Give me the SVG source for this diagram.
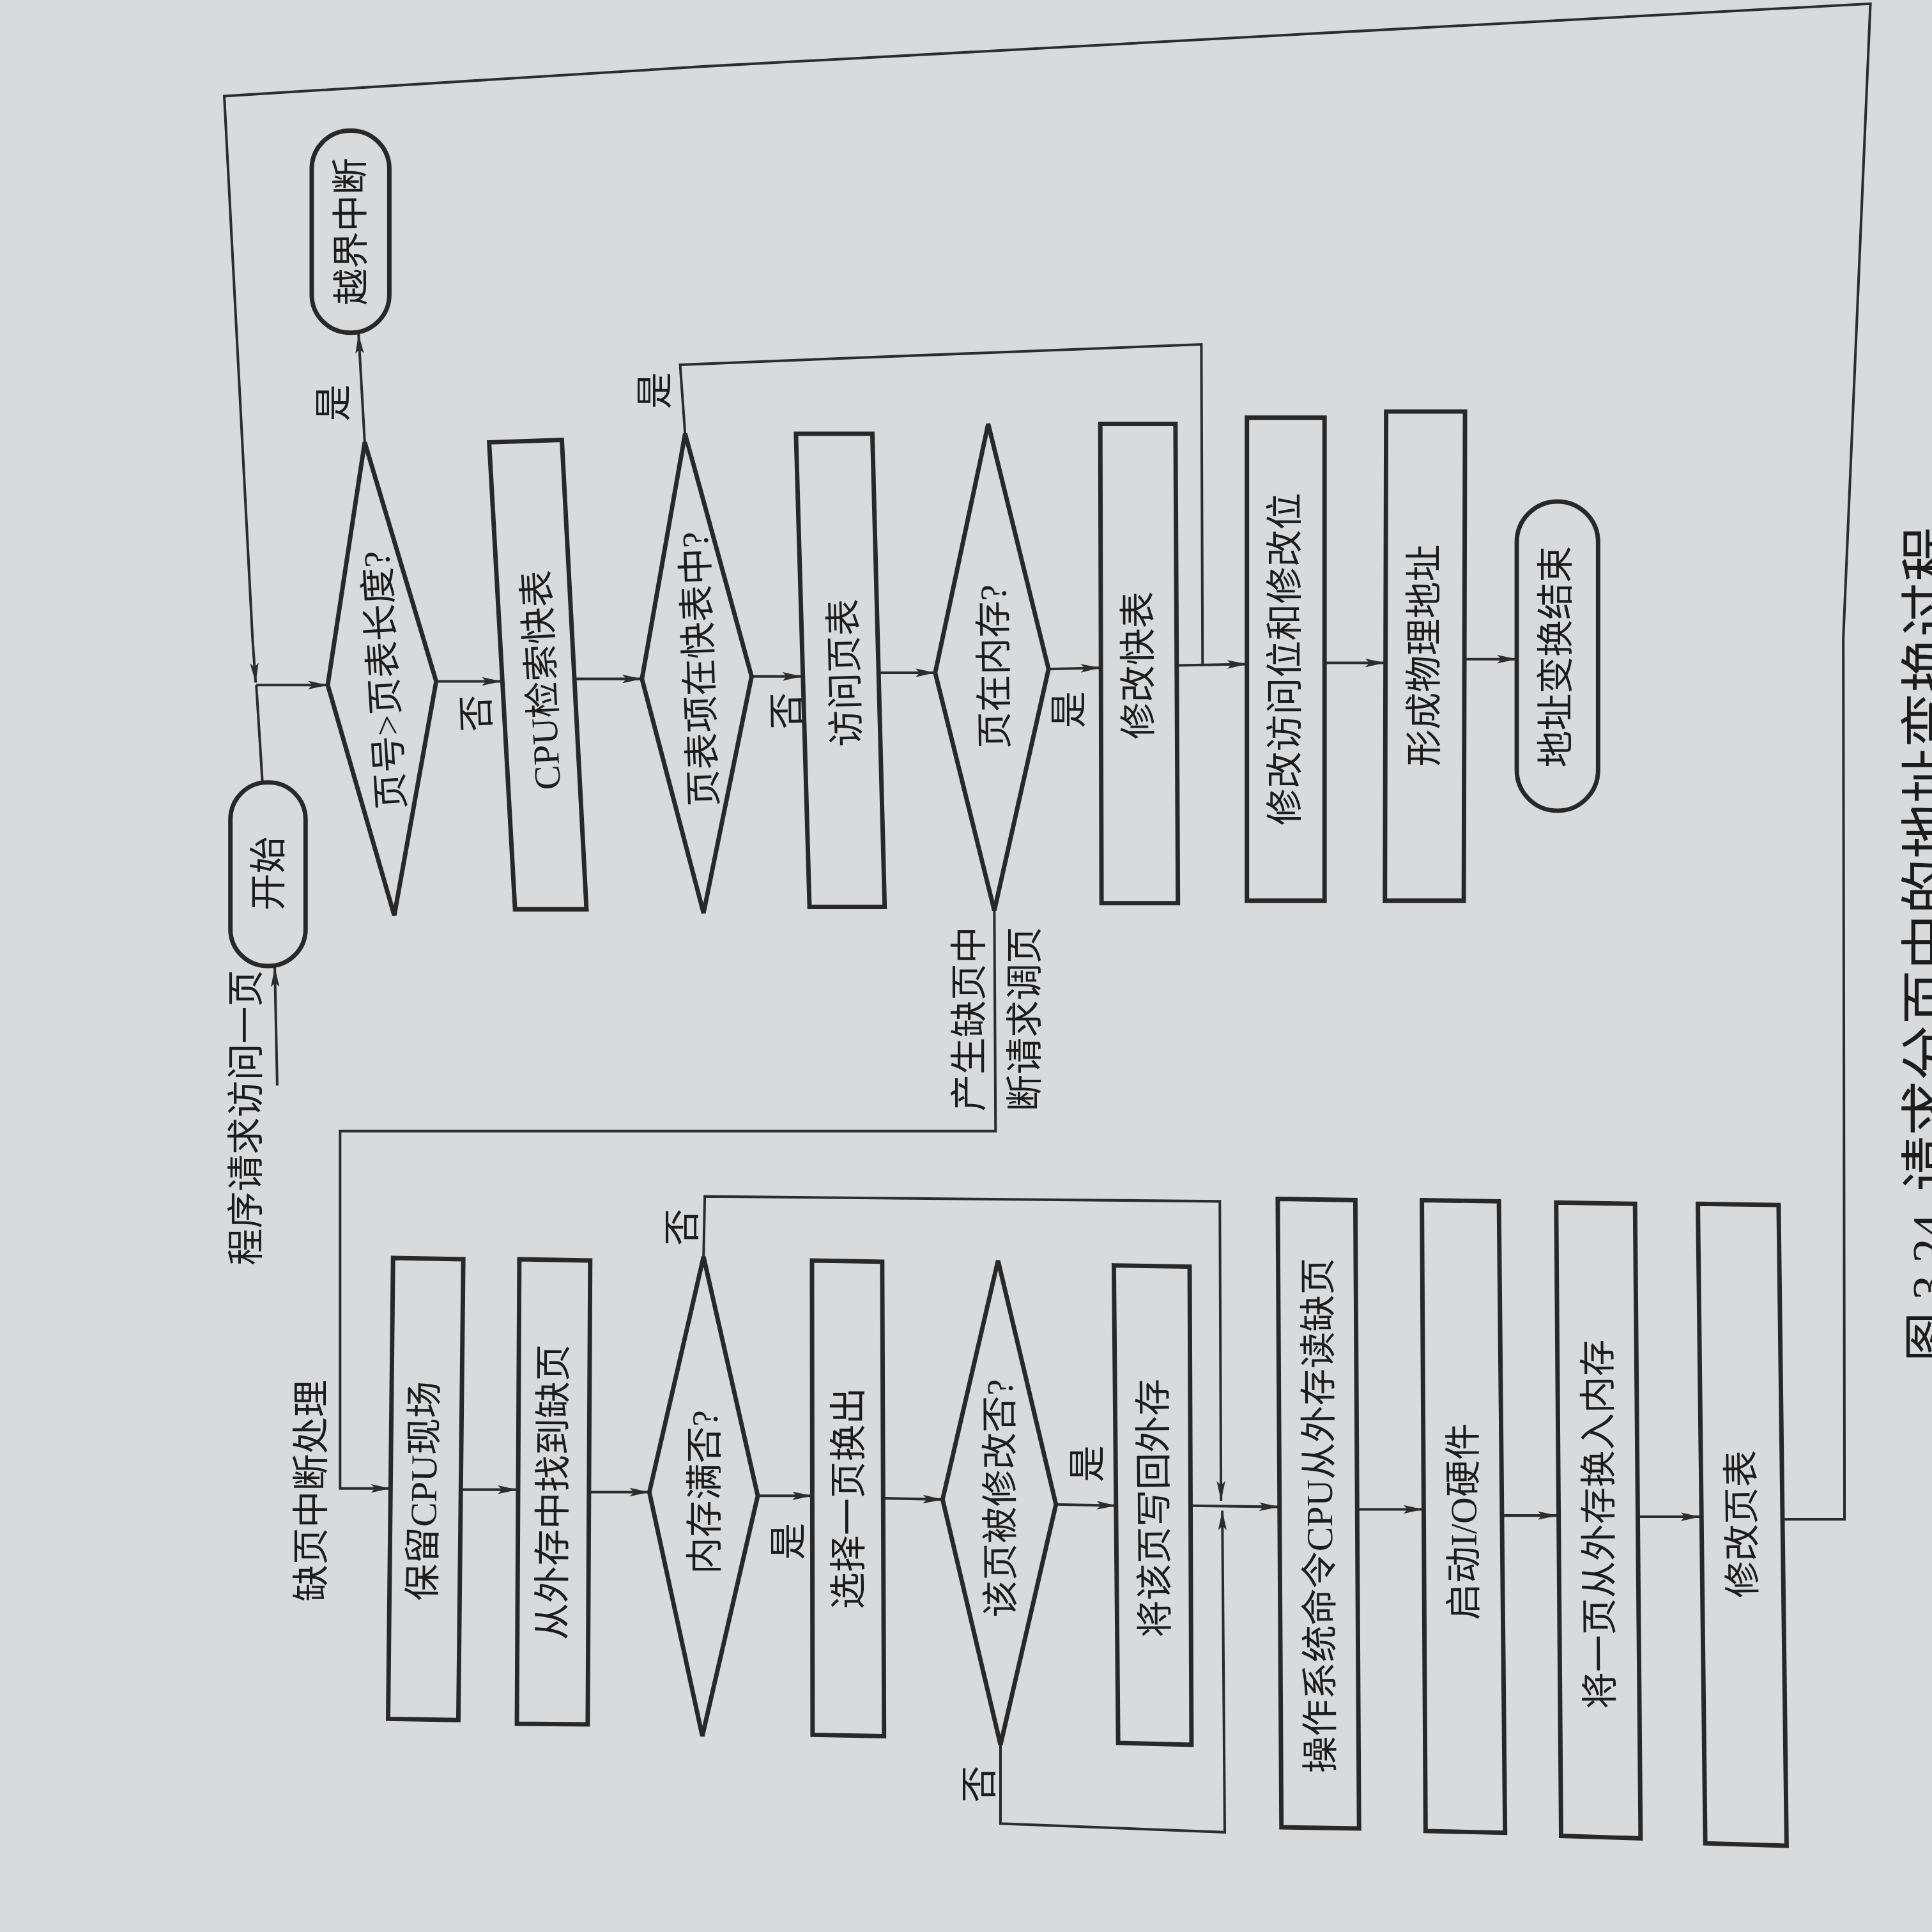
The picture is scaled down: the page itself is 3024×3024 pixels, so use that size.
<svg xmlns="http://www.w3.org/2000/svg" width="3024" height="3024" viewBox="0 0 3024 3024">
<defs>
<style>
.bg{fill:#d9dadc}
.shape{fill:none;stroke:#282828;stroke-width:3.6;stroke-linejoin:miter}
.conn{fill:none;stroke:#2c2c2c;stroke-width:2.1}
.arr{marker-end:url(#ah)}
.t{font-family:'Liberation Serif','Noto Sans CJK SC',serif;font-size:30px;fill:#1c1c1c;text-anchor:middle;dominant-baseline:central}
.cap{font-size:45px}
.cap2{font-size:40px}
</style>
<marker id="ah" viewBox="0 0 16 7" refX="16" refY="3.5" markerWidth="16" markerHeight="7" orient="auto" markerUnits="userSpaceOnUse"><path d="M0,0 L16,3.5 L0,7 L3.5,3.5 z" fill="#2c2c2c"/></marker>
</defs>
<rect class="bg" x="0" y="0" width="3024" height="3024"/>
<g transform="scale(1.928571)">
<g id="connectors">
<polyline class="conn arr" points="1447,1233 1497,1233 1496,518 1518,3 1089,26 570,54 182,78 205,519 207.5,554"/>
<line class="conn" x1="213" y1="635" x2="208" y2="556"/>
<line class="conn arr" x1="208" y1="556" x2="266" y2="556"/>
<line class="conn arr" x1="225" y1="881" x2="223" y2="785"/>
<line class="conn arr" x1="296" y1="359" x2="291" y2="271"/>
<line class="conn arr" x1="354" y1="553" x2="407" y2="553"/>
<line class="conn arr" x1="466" y1="551" x2="521" y2="551"/>
<line class="conn arr" x1="610" y1="549" x2="651" y2="549"/>
<polyline class="conn" points="556,352 552,296 975,279.5 976,539"/>
<line class="conn arr" x1="713" y1="546" x2="759" y2="546"/>
<line class="conn arr" x1="851" y1="543" x2="893" y2="542"/>
<line class="conn arr" x1="956" y1="540" x2="1012" y2="539"/>
<line class="conn arr" x1="1075" y1="538" x2="1124" y2="538"/>
<line class="conn arr" x1="1188" y1="535" x2="1231" y2="535"/>
<polyline class="conn arr" points="807,739 808,918 276,918 276,1208 317,1208"/>
<line class="conn arr" x1="373" y1="1209" x2="420" y2="1209"/>
<line class="conn arr" x1="478" y1="1211" x2="527" y2="1211"/>
<line class="conn arr" x1="615" y1="1214" x2="659" y2="1214"/>
<polyline class="conn arr" points="571,1020 572,971 990,975 991,1218"/>
<line class="conn arr" x1="717" y1="1216" x2="765" y2="1217"/>
<line class="conn arr" x1="857" y1="1221" x2="906" y2="1222"/>
<line class="conn arr" x1="966" y1="1222" x2="1038" y2="1223"/>
<polyline class="conn arr" points="812,1416 812,1480 994,1487 992,1226"/>
<line class="conn arr" x1="1101" y1="1225" x2="1155" y2="1225"/>
<line class="conn arr" x1="1219" y1="1230" x2="1264" y2="1230"/>
<line class="conn arr" x1="1330" y1="1231" x2="1380" y2="1231"/>
</g>
<g id="labels">
<text class="t" transform="translate(200,907) rotate(-90)">程序请求访问一页</text>
<text class="t" transform="translate(253,1210) rotate(-90)">缺页中断处理</text>
<text class="t" transform="translate(271,327) rotate(-90)">是</text>
<text class="t" transform="translate(532,317) rotate(-90)">是</text>
<text class="t" transform="translate(387,579) rotate(-92)">否</text>
<text class="t" transform="translate(639,577) rotate(-91)">否</text>
<text class="t" transform="translate(868,576) rotate(-90)">是</text>
<text class="t" transform="translate(787,827) rotate(-90)">产生缺页中</text>
<text class="t" transform="translate(832,827) rotate(-90)">断请求调页</text>
<text class="t" transform="translate(554,996) rotate(-90)">否</text>
<text class="t" transform="translate(640,1251) rotate(-90)">是</text>
<text class="t" transform="translate(883,1188) rotate(-90)">是</text>
<text class="t" transform="translate(795,1448) rotate(-90)">否</text>
<text class="t cap2" transform="translate(1566,1045) rotate(-90)">图 3.24</text>
<text class="t cap" transform="translate(1566,697) rotate(-90)">请求分页中的地址变换过程</text>
</g>
<g id="n_start"><rect class="shape" x="187" y="635" width="61" height="149" rx="30" ry="30"/><text class="t" transform="translate(218,709) rotate(-90)">开始</text></g>
<g id="n_bound"><rect class="shape" x="253" y="106" width="63" height="164" rx="31" ry="31"/><text class="t" transform="translate(285,188) rotate(-90.5)">越界中断</text></g>
<g id="n_check_len"><polygon class="shape" points="296,359 354,553 320,743 266,556"/><text class="t" transform="translate(312,552) rotate(-93.5)">页号&gt;页表长度?</text></g>
<g id="n_tlb_search"><polygon class="shape" points="397,359 456,357 476,738 418,738"/><text class="t" transform="translate(440,552) rotate(-93)">CPU检索快表</text></g>
<g id="n_in_tlb"><polygon class="shape" points="556,352 610,549 571,741 521,551"/><text class="t" transform="translate(568,543) rotate(-92)">页表项在快表中?</text></g>
<g id="n_access_pt"><polygon class="shape" points="646,352 708,352 718,736 657,736"/><text class="t" transform="translate(686,546) rotate(-91.5)">访问页表</text></g>
<g id="n_in_mem"><polygon class="shape" points="802,344 851,543 807,739 759,546"/><text class="t" transform="translate(807,541) rotate(-90.7)">页在内存?</text></g>
<g id="n_mod_tlb"><polygon class="shape" points="893,344 954,344 956,733 894,733"/><text class="t" transform="translate(924,540) rotate(-90.2)">修改快表</text></g>
<g id="n_mod_bits"><polygon class="shape" points="1012,339 1075,339 1075,731 1012,731"/><text class="t" transform="translate(1043,535) rotate(-90)">修改访问位和修改位</text></g>
<g id="n_phys"><polygon class="shape" points="1125,334 1189,334 1188,731 1124,731"/><text class="t" transform="translate(1156,532) rotate(-90)">形成物理地址</text></g>
<g id="n_end"><rect class="shape" x="1231" y="407" width="66" height="251" rx="33" ry="33"/><text class="t" transform="translate(1263,533) rotate(-90)">地址变换结束</text></g>
<g id="n_save_cpu"><polygon class="shape" points="319,1021 376,1022 372,1396 315,1395"/><text class="t" transform="translate(344,1210) rotate(-89.4)">保留CPU现场</text></g>
<g id="n_find_page"><polygon class="shape" points="421.5,1022 479,1023 477,1399.5 419.5,1399"/><text class="t" transform="translate(449,1211) rotate(-89.7)">从外存中找到缺页</text></g>
<g id="n_mem_full"><polygon class="shape" points="571,1020 615,1214 570,1409 527,1211"/><text class="t" transform="translate(572,1211) rotate(-90)">内存满否?</text></g>
<g id="n_select"><polygon class="shape" points="659,1023 716,1024 717.5,1409 659.5,1408"/><text class="t" transform="translate(689,1216) rotate(-90)">选择一页换出</text></g>
<g id="n_modified"><polygon class="shape" points="810,1023 857,1221 812,1416 765,1217"/><text class="t" transform="translate(812,1216) rotate(-90.3)">该页被修改否?</text></g>
<g id="n_write_back"><polygon class="shape" points="904,1027 965.5,1028 967,1416 907.5,1414.5"/><text class="t" transform="translate(937,1224) rotate(-90.5)">将该页写回外存</text></g>
<g id="n_os_read"><polygon class="shape" points="1037,973 1100,974 1103,1484 1040,1483"/><text class="t" transform="translate(1071,1230) rotate(-90.3)">操作系统命令CPU从外存读缺页</text></g>
<g id="n_io"><polygon class="shape" points="1154,974 1216.5,975 1221.5,1487.5 1157,1486"/><text class="t" transform="translate(1188,1235) rotate(-90.3)">启动I/O硬件</text></g>
<g id="n_swap_in"><polygon class="shape" points="1263,976 1327,977 1331.5,1492 1267,1490"/><text class="t" transform="translate(1298,1237) rotate(-90.4)">将一页从外存换入内存</text></g>
<g id="n_mod_pt"><polygon class="shape" points="1378,977 1443.5,978 1450,1498 1384,1496"/><text class="t" transform="translate(1414,1237) rotate(-90.7)">修改页表</text></g>
</g>
</svg>
